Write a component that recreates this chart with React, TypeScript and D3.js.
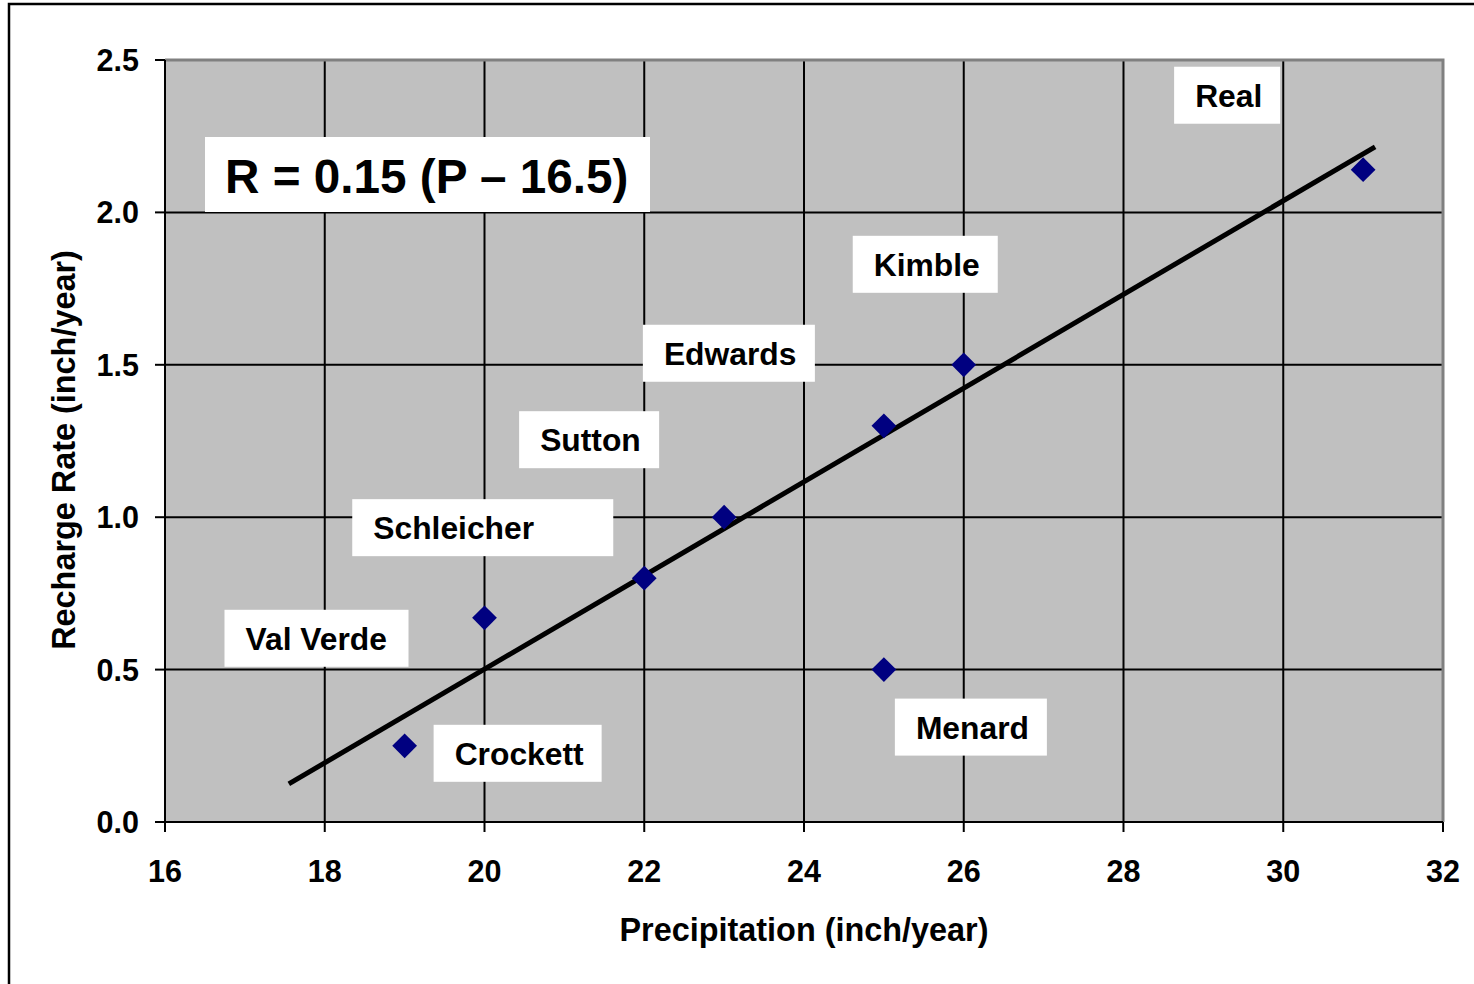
import * as d3 from "d3";

// county data
const counties = ["Crockett", "Val Verde", "Schleicher", "Sutton", "Edwards", "Menard", "Kimble", "Real"];
const precipitation = [19, 20, 22, 23, 25, 25, 26, 31];
const recharge = [0.25, 0.67, 0.8, 1.0, 1.3, 0.5, 1.5, 2.14];

// fitted line end points
const trendX = [17.55, 31.15];
const trendY = [0.125, 2.215];

const xTicks = [16, 18, 20, 22, 24, 26, 28, 30, 32];
const yTicks = [0, 0.5, 1.0, 1.5, 2.0, 2.5];

const equation = "R = 0.15 (P \u2013 16.5)";

// label box placement (px offset from the point, box width)
const labelLayout: Record<string, { dx: number; dy: number; w: number }> = {
  Real: { dx: -189, dy: -103, w: 106 },
  Kimble: { dx: -111, dy: -129, w: 145 },
  Edwards: { dx: -241, dy: -101, w: 172 },
  Sutton: { dx: -205, dy: -106, w: 140 },
  Schleicher: { dx: -292, dy: -79, w: 261 },
  "Val Verde": { dx: -260, dy: -8, w: 184 },
  Crockett: { dx: 29, dy: -21, w: 168 },
  Menard: { dx: 11, dy: 29, w: 152 },
};

const W = 1474;
const H = 984;
const plot = { left: 165, top: 60, right: 1443, bottom: 822 };
const font = "'Liberation Sans', Arial, sans-serif";

export default function App() {
  const x = d3.scaleLinear().domain([16, 32]).range([plot.left, plot.right]);
  const y = d3.scaleLinear().domain([0, 2.5]).range([plot.bottom, plot.top]);

  const line = d3
    .line<number>()
    .x((d) => x(d))
    .y((_, i) => y(trendY[i]));

  const diamond = d3.symbol().type(d3.symbolDiamond2).size(390)();

  return (
    <svg
      width={W}
      height={H}
      style={{ position: "fixed", left: 0, top: 0, background: "#fff" }}
      fontFamily={font}
      fontWeight="bold"
    >
      <rect x={9} y={4} width={W} height={H} fill="none" stroke="#000" strokeWidth={2.5} />

      <rect
        x={plot.left}
        y={plot.top}
        width={plot.right - plot.left}
        height={plot.bottom - plot.top}
        fill="#c0c0c0"
      />
      {/* grid */}
      {xTicks.slice(1, -1).map((t) => (
        <line key={"gx" + t} x1={x(t)} x2={x(t)} y1={plot.top} y2={plot.bottom} stroke="#000" strokeWidth={2} />
      ))}
      {yTicks.slice(1, -1).map((t) => (
        <line key={"gy" + t} x1={plot.left} x2={plot.right} y1={y(t)} y2={y(t)} stroke="#000" strokeWidth={2} />
      ))}
      {/* plot border top/right */}
      <polyline
        points={`${plot.left},${plot.top} ${plot.right},${plot.top} ${plot.right},${plot.bottom}`}
        fill="none"
        stroke="#808080"
        strokeWidth={3}
      />
      {/* axes */}
      <line x1={plot.left} x2={plot.left} y1={plot.top} y2={plot.bottom + 10} stroke="#000" strokeWidth={2} />
      <line x1={plot.left - 10} x2={plot.right} y1={plot.bottom} y2={plot.bottom} stroke="#000" strokeWidth={2} />
      {xTicks.map((t) => (
        <g key={"xt" + t}>
          <line x1={x(t)} x2={x(t)} y1={plot.bottom} y2={plot.bottom + 10} stroke="#000" strokeWidth={2} />
          <text x={x(t)} y={882} textAnchor="middle" fontSize={30.5}>
            {t}
          </text>
        </g>
      ))}
      {yTicks.map((t) => (
        <g key={"yt" + t}>
          <line x1={plot.left - 10} x2={plot.left} y1={y(t)} y2={y(t)} stroke="#000" strokeWidth={2} />
          <text x={139} y={y(t) + 11} textAnchor="end" fontSize={30.5}>
            {d3.format(".1f")(t)}
          </text>
        </g>
      ))}

      {/* trend line */}
      <path d={line(trendX) ?? ""} fill="none" stroke="#000" strokeWidth={5} />

      {/* points */}
      {counties.map((c, i) => (
        <path
          key={c}
          d={diamond ?? ""}
          transform={`translate(${x(precipitation[i])},${y(recharge[i])})`}
          fill="#000080"
        />
      ))}

      {/* labels */}
      {counties.map((c, i) => {
        const l = labelLayout[c];
        const bx = x(precipitation[i]) + l.dx;
        const by = y(recharge[i]) + l.dy;
        return (
          <g key={"lb" + c}>
            <rect x={bx} y={by} width={l.w} height={57} fill="#fff" />
            <text x={bx + 21} y={by + 40} fontSize={31.8}>
              {c}
            </text>
          </g>
        );
      })}

      {/* equation */}
      <rect x={205} y={137} width={445} height={75} fill="#fff" />
      <text x={225} y={193} fontSize={47.7}>
        {equation}
      </text>

      {/* axis titles */}
      <text x={(plot.left + plot.right) / 2} y={941} textAnchor="middle" fontSize={32.4}>
        Precipitation (inch/year)
      </text>
      <text
        transform={`translate(75,${(plot.top + plot.bottom) / 2 + 9}) rotate(-90)`}
        textAnchor="middle"
        fontSize={32.4}
      >
        Recharge Rate (inch/year)
      </text>
    </svg>
  );
}
